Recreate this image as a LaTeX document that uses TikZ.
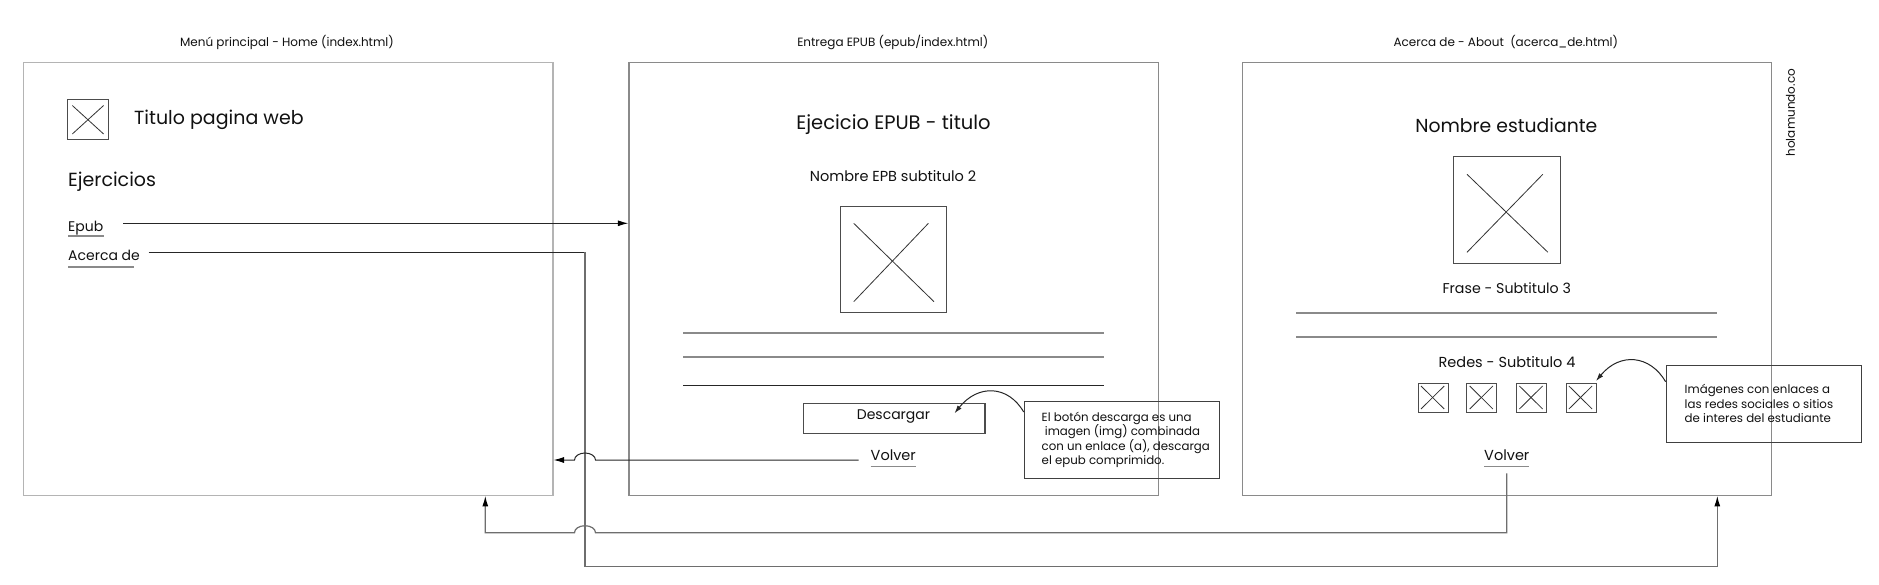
\documentclass[tikz,border=0pt]{standalone}
\usepackage{fontspec}
\setmainfont{Poppins}
\usetikzlibrary{arrows.meta}
\definecolor{boxgray}{HTML}{8A8A8A}
\definecolor{lightbox}{HTML}{B4B4B4}
\definecolor{conngray}{HTML}{6E6E6E}
\definecolor{txt}{HTML}{111111}
\begin{document}
\begin{tikzpicture}[x=1pt,y=-1pt,
  pagebox/.style={draw=boxgray,line width=1.2pt,rectangle,inner sep=0pt,anchor=north west},
  imgbox/.style={draw=black!70,line width=1pt,rectangle,inner sep=0pt,anchor=north west},
  xline/.style={draw=black!80,line width=0.8pt},
  rule/.style={draw=boxgray,line width=1.6pt},
  uline/.style={draw=boxgray,line width=1.2pt},
  conn/.style={draw=black!85,line width=1pt},
  conng/.style={draw=conngray,line width=1.2pt},
  tip/.style={-{Latex[length=10.5pt,width=6pt,color=black]}},
  lbl/.style={inner sep=0pt,text=txt,font=\fontsize{#1}{#1}\selectfont},
  note/.style={draw=black!75,line width=1pt,rectangle,inner sep=0pt,anchor=north west}
]
\useasboundingbox (0,0) rectangle (1879,585);
\fill[white] (0,0) rectangle (1879,585);

% page titles
\node[lbl=12] (t1) at (287,42.3) {Menú principal - Home (index.html)};
\node[lbl=12] (t2) at (892.8,42.3) {Entrega EPUB (epub/index.html)};
\node[lbl=12] (t3) at (1505.8,42.3) {Acerca de - About\ \ (acerca\_de.html)};

% page boxes
\node[pagebox,draw=lightbox,minimum width=529.5pt,minimum height=433pt] (p1) at (22.8,61.7) {};
\node[pagebox,minimum width=529.3pt,minimum height=433pt] (p2) at (628.3,61.7) {};
\node[pagebox,minimum width=529.1pt,minimum height=433pt] (p3) at (1241.9,61.7) {};

% ---------- page 1
\node[imgbox,minimum width=41pt,minimum height=39.7pt] (i1) at (67.3,99.3) {};
\draw[xline] (72.3,105.5) -- (103.6,134);
\draw[xline] (103.6,105.5) -- (72.3,134);
\node[lbl=19,anchor=west] (tit) at (134,120) {Titulo pagina web};
\node[lbl=19,anchor=west] (ej) at (68,182) {Ejercicios};
\node[lbl=14,anchor=base west] (epub) at (68,231.7) {Epub};
\draw[uline] (68,236) -- (104,236);
\node[lbl=14,anchor=base west] (acer) at (68,260.7) {Acerca de};
\draw[uline] (68,267) -- (134,267);

% ---------- page 2
\node[lbl=19.5] (tit2) at (893.5,124.3) {Ejecicio EPUB - titulo};
\node[lbl=14.5] (sub2) at (893,176) {Nombre EPB subtitulo 2};
\node[imgbox,minimum width=106.3pt,minimum height=106.6pt] (i2) at (840,205.7) {};
\draw[xline] (853.7,223.3) -- (934,301.7);
\draw[xline] (928.4,223.3) -- (853.7,301.7);
\draw[rule] (683,332.7) -- (1103.6,332.7);
\draw[rule] (683,356.7) -- (1103.6,356.7);
\draw[rule,draw=black!85,line width=1.2pt] (683,385.3) -- (1103.6,385.3);
\node[draw=black!70,line width=1.2pt,rectangle,inner sep=0pt,anchor=north west,minimum width=181.7pt,minimum height=30.3pt] (desc) at (802.7,402.7) {};
\node[lbl=14] (desct) at (893.5,417) {Descargar};
\node[lbl=14.5,anchor=base west] (vol2) at (870.5,460.7) {Volver};
\draw[uline] (870.5,466.7) -- (915.6,466.7);
\node[note,minimum width=195pt,minimum height=77pt] (n1) at (1023.7,400.7) {};
\node[lbl=11.8,anchor=west,align=left,font=\fontsize{11.8}{14.4}\selectfont] (n1t) at (1041.5,440) {El botón descarga es una\\\ imagen (img) combinada\\con un enlace (a), descarga\\el epub comprimido.};

% ---------- page 3
\node[lbl=18.8] (tit3) at (1506.3,125) {Nombre estudiante};
\node[imgbox,minimum width=106.3pt,minimum height=106.7pt] (i3) at (1453.3,156) {};
\draw[xline] (1467,174.3) -- (1547.9,252.3);
\draw[xline] (1542.8,174.3) -- (1467,252.3);
\node[lbl=14.2] (sub3) at (1506.7,288.3) {Frase - Subtitulo 3};
\draw[rule] (1296,312.7) -- (1717.3,312.7);
\draw[rule] (1296,336.7) -- (1717.3,336.7);
\node[lbl=14.5] (sub4) at (1507,362.3) {Redes - Subtitulo 4};
\foreach \xx/\nm in {1417.6/a,1466.3/b,1516/c,1565.5/d}{
  \node[imgbox,minimum width=30pt,minimum height=29.6pt] (s\nm) at (\xx,382.7) {};
  \draw[xline] (\xx+3.4,386) -- (\xx+26.6,409);
  \draw[xline] (\xx+26.6,386) -- (\xx+3.4,409);
}
\node[lbl=14.5,anchor=base west] (vol3) at (1484,460.7) {Volver};
\draw[uline] (1484,466.7) -- (1529,466.7);
\node[note,minimum width=195.4pt,minimum height=76.4pt] (n2) at (1665.6,365.3) {};
\node[lbl=11.8,anchor=west,align=left,font=\fontsize{11.8}{14.5}\selectfont] (n2t) at (1684.5,403.8) {Imágenes con enlaces a\\las redes sociales o sitios\\de interes del estudiante};
\node[lbl=12,rotate=90] (hm) at (1790.4,112.7) {holamundo.co};

% ---------- connectors
\coordinate (e1) at (123,223.3);
\draw[conn,tip] (e1) -- (e1 -| p2.west);

\coordinate (a1) at (148.5,252.3);
\coordinate (a2) at (585,252.3);
\coordinate (a3) at (585,566.7);
\coordinate (a4) at (1717.3,566.7);
\draw[conn] (a1) -- (a2);
\draw[conng,tip] (a2) -- (a3) -- (a4) -- (a4 |- p3.south);

\coordinate (v1) at (858.5,460);
\draw[conn,tip] (v1) -- (595.5,460) arc[start angle=0,end angle=180,x radius=10.5,y radius=-7] -- (v1 -| p1.east);

\coordinate (w1) at (1506.7,473.3);
\coordinate (w2) at (1506.7,532.7);
\coordinate (w3) at (485.3,532.7);
\draw[conng,tip] (w1) -- (w2) -- (595.5,532.7) arc[start angle=0,end angle=180,x radius=10.5,y radius=-7] -- (w3) -- (w3 |- p1.south);

% callout arrows
\draw[conn,-{Latex[length=8pt,width=5pt]}] (n1.west |- 0,412) .. controls (1008,385) and (978,384) .. (954.5,413.3);
\draw[conn,-{Latex[length=8pt,width=5pt]}] (n2.west |- 0,381.7) .. controls (1650,355) and (1620,352) .. (1596,381);
\end{tikzpicture}
\end{document}
